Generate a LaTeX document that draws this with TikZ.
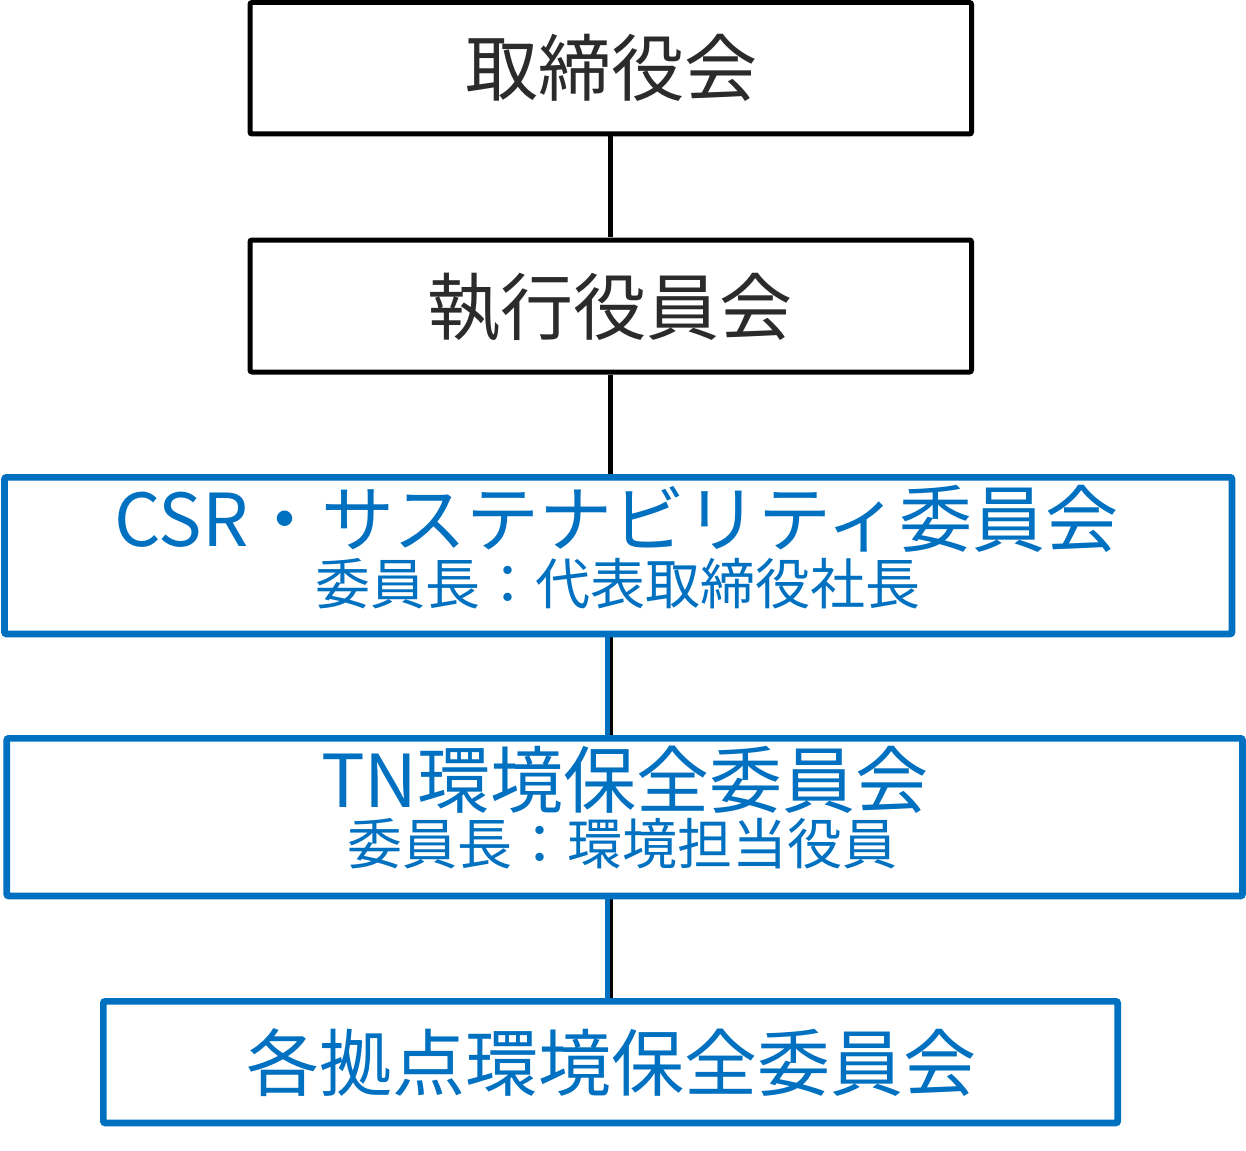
\documentclass[tikz,border=0pt]{standalone}
\usepackage{fontspec}
\newfontfamily\jp{Noto Sans CJK JP}
\usetikzlibrary{backgrounds}
\definecolor{cblue}{HTML}{0070C0}
\definecolor{cdark}{HTML}{2B2B2B}
\tikzset{
  blackbox/.style={draw=black, line width=5pt, rounded corners=2pt, inner sep=0pt, fill=white},
  bluebox/.style={draw=cblue, line width=6.6pt, rounded corners=2pt, inner sep=0pt, fill=white},
  bigtext/.style={anchor=base, inner sep=0pt, font=\jp\fontsize{73}{80}\selectfont},
  smalltext/.style={anchor=base, inner sep=0pt, font=\jp\fontsize{55}{60}\selectfont, text=cblue},
  blackline/.style={draw=black, line width=5pt},
  blueline/.style={draw=cblue, line width=5pt}
}
\begin{document}
\begin{tikzpicture}[x=1pt,y=-1pt]
\useasboundingbox (0,0) rectangle (1246,1150);
% boxes
\node[blackbox, minimum width=721.5pt, minimum height=131.5pt] (board) at (610.75,68.25) {};
\node[blackbox, minimum width=721.5pt, minimum height=132pt] (exec) at (610.75,306) {};
\node[bluebox, minimum width=1227.5pt, minimum height=156.7pt] (csr) at (618.25,555.65) {};
\node[bluebox, minimum width=1235.8pt, minimum height=157.7pt] (tn) at (624.6,817.15) {};
\node[bluebox, minimum width=1014.4pt, minimum height=121.7pt] (site) at (610.5,1062.15) {};
% connectors
\begin{scope}[on background layer]
\fill[white] (0,0) rectangle (1246,1150);
\draw[blackline] (board.south) -- (exec.north -| board.south);
\draw[blackline] (exec.south) -- (csr.north -| exec.south);
\draw[blackline] (csr.south -| board.south) -- (tn.north -| board.south);
\draw[blueline] ([xshift=-3pt]csr.south -| board.south) -- ([xshift=-3pt]tn.north -| board.south);
\draw[blackline] (tn.south -| board.south) -- (site.north -| board.south);
\draw[blueline] ([xshift=-3pt]tn.south -| board.south) -- ([xshift=-3pt]site.north -| board.south);
\end{scope}
% texts
\node[bigtext, text=cdark] (boardt) at (611,95.7) {取締役会};
\node[bigtext, text=cdark] (exect) at (610,334) {執行役員会};
\node[bigtext, text=cblue] (csrt) at (616.5,546.7) {CSR・サステナビリティ委員会};
\node[smalltext] (csrs) at (618,604) {委員長：代表取締役社長};
\node[bigtext, text=cblue] (tnt) at (625,807.7) {TN環境保全委員会};
\node[smalltext] (tns) at (622.5,864) {委員長：環境担当役員};
\node[bigtext, text=cblue] (sitet) at (611,1090.7) {各拠点環境保全委員会};
\end{tikzpicture}
\end{document}
